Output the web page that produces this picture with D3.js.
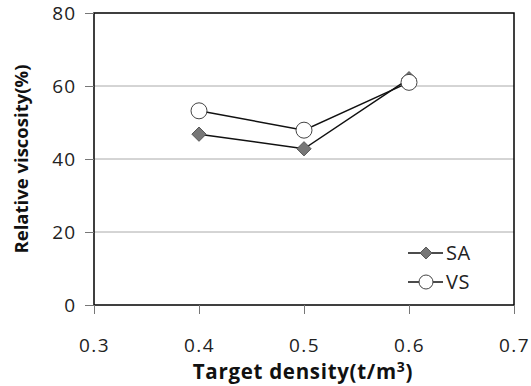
<!DOCTYPE html>
<html><head><meta charset="utf-8">
<script src="https://cdn.jsdelivr.net/npm/d3@7/dist/d3.min.js"></script>
<style>body{margin:0;background:#fff}svg{display:block}text{font-family:"Open Sans","DejaVu Sans",sans-serif}</style>
</head><body>
<script>
const densities = [0.4, 0.5, 0.6];
const saValues = [46.8, 42.8, 62.0];
const vsValues = [53.2, 47.9, 61.0];
const xTicks = [0.3, 0.4, 0.5, 0.6, 0.7];
const yTicks = [0, 20, 40, 60, 80];
const seriesNames = ["SA", "VS"];

const W = 531, H = 386;
const m = {l: 94, t: 13, r: 17, b: 81};
const svg = d3.select("body").append("svg").attr("width", W).attr("height", H);
const x = d3.scaleLinear().domain([0.3, 0.7]).range([m.l, W - m.r]);
const y = d3.scaleLinear().domain([0, 80]).range([H - m.b, m.t]);

// gridlines
svg.append("g").selectAll("line").data(yTicks.filter(d => d > 0 && d < 80)).join("line")
  .attr("x1", x(0.3)).attr("x2", x(0.7)).attr("y1", d => y(d)).attr("y2", d => y(d))
  .attr("stroke", "#aaa").attr("stroke-width", 1);

// frame
svg.append("rect").attr("x", x(0.3)).attr("y", y(80)).attr("width", x(0.7) - x(0.3)).attr("height", y(0) - y(80))
  .attr("fill", "none").attr("stroke", "#000").attr("stroke-width", 1.5);

const yAxis = svg.append("g").attr("transform", `translate(${x(0.3)},0)`)
  .call(d3.axisLeft(y).tickValues(yTicks).tickSize(9).tickPadding(9).tickFormat(d3.format("d")));
yAxis.select(".domain").remove();
yAxis.selectAll("line").attr("stroke", "#777");
yAxis.selectAll("text").attr("font-size", 19).attr("letter-spacing", 1).attr("fill", "#222");

const xAxis = svg.append("g").attr("transform", `translate(0,${y(0)})`)
  .call(d3.axisBottom(x).tickValues(xTicks).tickSize(9).tickFormat(d3.format(".1f")));
xAxis.select(".domain").remove();
xAxis.selectAll("line").attr("stroke", "#777");
xAxis.selectAll("text").attr("font-size", 19).attr("letter-spacing", 1.5).attr("fill", "#222")
  .attr("y", 47).attr("dy", 0);

const line = d3.line().x(d => x(d[0])).y(d => y(d[1]));
const sa = densities.map((d, i) => [d, saValues[i]]);
const vs = densities.map((d, i) => [d, vsValues[i]]);

svg.append("path").attr("d", line(sa)).attr("fill", "none").attr("stroke", "#111").attr("stroke-width", 1.5);
svg.append("path").attr("d", line(vs)).attr("fill", "none").attr("stroke", "#111").attr("stroke-width", 1.5);

const diamond = d3.symbol().type(d3.symbolDiamond2).size(130);
svg.append("g").selectAll("path").data(sa).join("path")
  .attr("transform", d => `translate(${x(d[0])},${y(d[1])})`).attr("d", diamond)
  .attr("fill", "#777").attr("stroke", "#555").attr("stroke-width", 1);
svg.append("g").selectAll("circle").data(vs).join("circle")
  .attr("cx", d => x(d[0])).attr("cy", d => y(d[1])).attr("r", 8)
  .attr("fill", "#fff").attr("stroke", "#444").attr("stroke-width", 1);

// legend
const lg = svg.append("g");
[0, 1].forEach(i => {
  const ly = 253 + i * 29;
  lg.append("line").attr("x1", 408).attr("x2", 443).attr("y1", ly).attr("y2", ly).attr("stroke", "#111").attr("stroke-width", 1.5);
  if (i === 0) lg.append("path").attr("transform", `translate(426,${ly})`).attr("d", d3.symbol().type(d3.symbolDiamond2).size(90)).attr("fill", "#777").attr("stroke", "#555");
  else lg.append("circle").attr("cx", 426).attr("cy", ly).attr("r", 7).attr("fill", "#fff").attr("stroke", "#444");
  lg.append("text").attr("x", 446).attr("y", ly + 7).attr("font-size", 20).attr("letter-spacing", 0.5).attr("fill", "#222").text(seriesNames[i]);
});

svg.append("text").attr("x", 303).attr("y", 379).attr("text-anchor", "middle")
  .attr("font-size", 20.5).attr("font-weight", "bold").attr("letter-spacing", 0.7).attr("fill", "#111")
  .html('Target density(t/m<tspan font-size="14" dy="-7">3</tspan><tspan dy="7">)</tspan>');
svg.append("text").attr("transform", "translate(28,159) rotate(-90)").attr("text-anchor", "middle")
  .attr("font-size", 18.5).attr("font-weight", "bold").attr("fill", "#111").text("Relative viscosity(%)");
</script>
</body></html>
